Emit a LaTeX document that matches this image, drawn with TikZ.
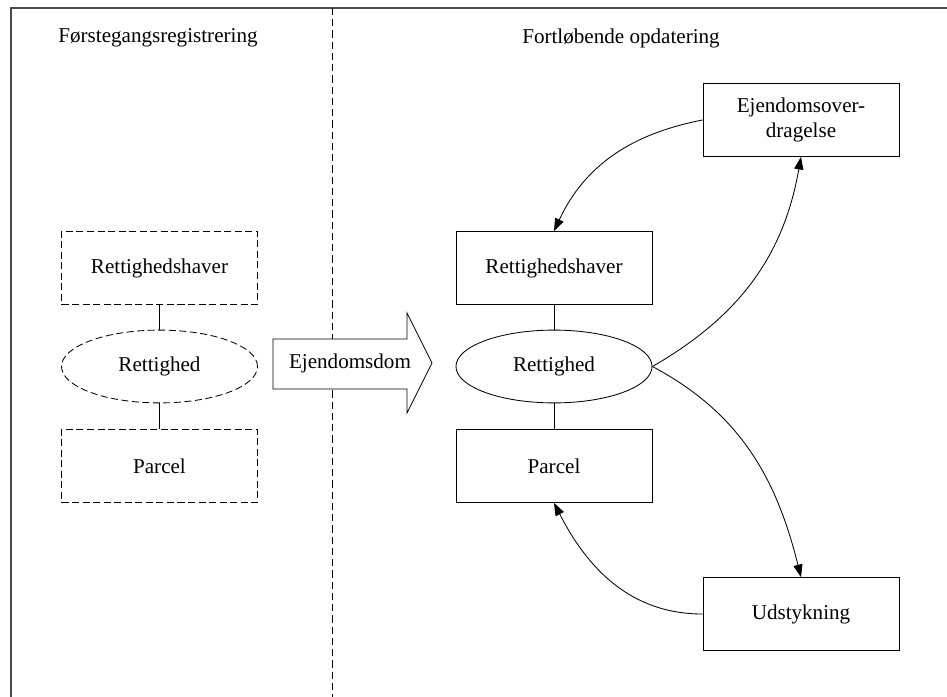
\documentclass[tikz,border=0pt]{standalone}
\usepackage{fontspec}
\setmainfont{Liberation Serif}
\usetikzlibrary{arrows.meta,shapes.geometric}

\begin{document}
\begin{tikzpicture}[x=0.025cm,y=-0.025cm,
		font=\fontsize{15}{18}\selectfont,
		boks/.style={draw,line width=0.6pt,minimum width=4.9cm,minimum height=1.82cm,inner sep=2pt},
		stiplet/.style={dash pattern=on 5pt off 2.5pt},
		oval/.style={draw,ellipse,line width=0.6pt,minimum width=4.9cm,minimum height=1.82cm,inner sep=1pt},
		pil/.style={line width=0.6pt,-{Triangle[length=9pt,width=6.5pt]}},
		ramme/.style={line width=1.2pt,gray!60!black}]
		\useasboundingbox (0,0) rectangle (947,697);
		\draw[ramme] (947,8) -- (11,8) -- (11,697);
		\draw[line width=0.6pt,dash pattern=on 5pt off 3pt] (332,8) -- (332,697);
		\node (titel1) at (158,38) {Førstegangsregistrering};
		\node (titel2) at (621,38) {Fortløbende opdatering};
		\node[boks,stiplet] (rh1) at (159.5,268) {Rettighedshaver};
		\node[oval,stiplet] (ret1) at (159.5,366.5) {Rettighed};
		\node[boks,stiplet] (pa1) at (159.5,466) {Parcel};
		\draw[line width=0.6pt] (rh1) -- (ret1);
		\draw[line width=0.6pt] (ret1) -- (pa1);
		\filldraw[line width=0.6pt,fill=white] (273,339) -- (407,339) -- (407,313) -- (432,363)
			-- (407,413) -- (407,389) -- (273,389) -- cycle;
		\node (dom) at (350,363) {Ejendomsdom};
		\node[boks] (rh2) at (554,268) {Rettighedshaver};
		\node[oval] (ret2) at (554,366.5) {Rettighed};
		\node[boks] (pa2) at (554,466) {Parcel};
		\draw[line width=0.6pt] (rh2) -- (ret2);
		\draw[line width=0.6pt] (ret2) -- (pa2);
		\node[boks,align=center] (overdr) at (801,120) {Ejendomsover-\\dragelse};
		\node[boks] (udst) at (801,614) {Udstykning};
		\draw[pil] (overdr.west) to[out=191,in=65] (rh2.north);
		\draw[pil] (ret2.east) to[out=30,in=-100] (overdr.south);
		\draw[pil] (ret2.east) to[out=-28,in=104] (udst.north);
		\draw[pil] (udst.west) to[out=180,in=-63] (pa2.south);
\end{tikzpicture}
\end{document}
